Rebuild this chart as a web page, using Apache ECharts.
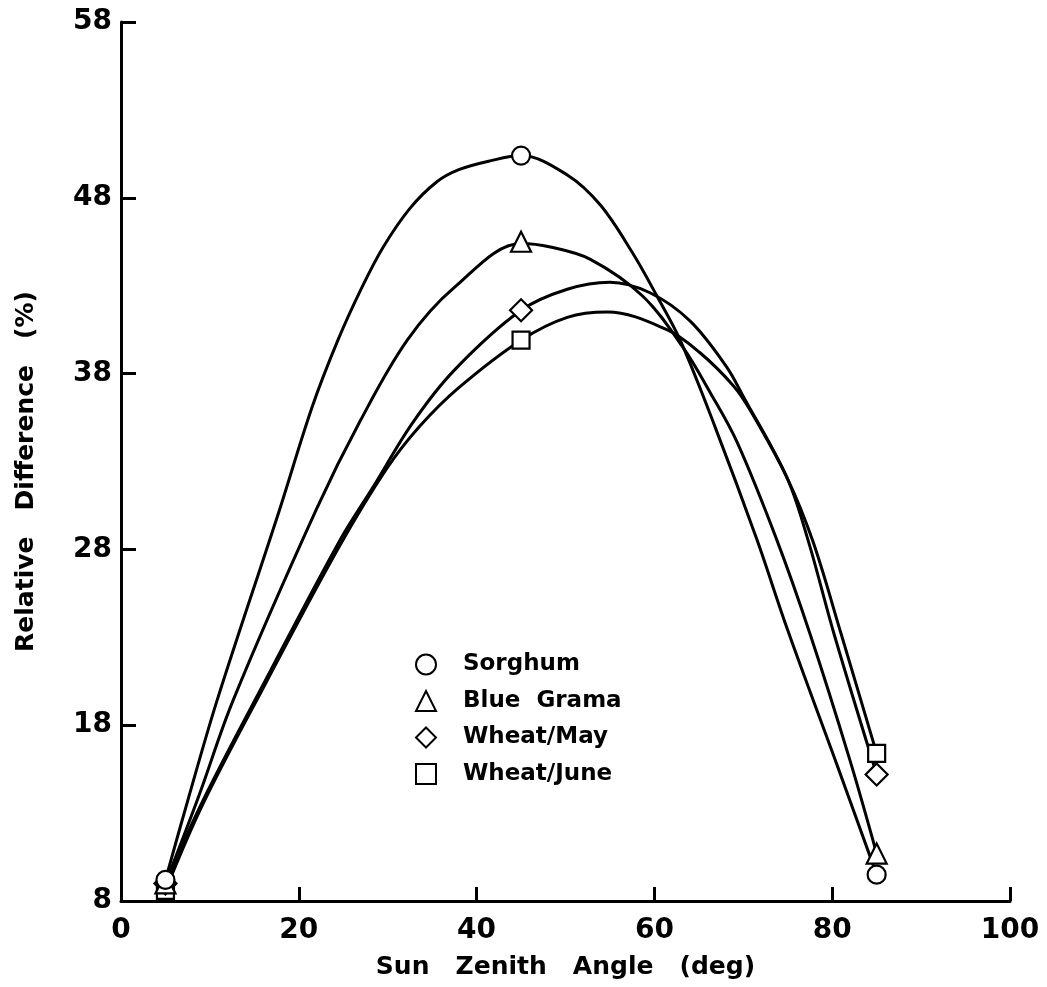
<!DOCTYPE html>
<html>
<head>
<meta charset="utf-8">
<script src="https://cdn.jsdelivr.net/npm/echarts@6/dist/echarts.min.js"></script>
<style>
html,body{margin:0;padding:0;background:#fff;}
#chart{width:1047px;height:987px;}
</style>
</head>
<body>
<div id="chart"></div>
<script>
// ---- data ----
const seriesNames = ['Sorghum', 'Blue Grama', 'Wheat/May', 'Wheat/June'];
const legendLabels = ['Sorghum', 'Blue  Grama', 'Wheat/May', 'Wheat/June'];
const xTicks = [0, 20, 40, 60, 80, 100];
const yTicks = [8, 18, 28, 38, 48, 58];

// measured points (sun zenith angle, relative difference %)
const sorghumPts   = [[5, 9.2], [45, 50.4], [85, 9.5]];
const blueGramaPts = [[5, 9.0], [45, 45.5], [85, 10.7]];
const wheatMayPts  = [[5, 9.0], [45, 41.6], [85, 15.2]];
const wheatJunePts = [[5, 8.6], [45, 39.9], [85, 16.4]];

// fitted curves
const sorghumCurve = [[5,9.2],[7.5,13.7],[10.8,19.4],[17.8,30.2],[21.5,36.1],[24.4,39.9],[27.1,42.9],[29.5,45.2],[32.5,47.4],[35.5,48.9],[38,49.6],[41.5,50.1],[45,50.4],[50.2,49.3],[53.9,47.6],[57.5,44.9],[60.3,42.4],[62.9,39.9],[66.8,35.0],[71.5,28.6],[75,23.4],[80.5,15.8],[85,9.5]];
const blueGramaCurve = [[5,9.0],[8.7,13.9],[12.6,19.4],[22.0,30.3],[26.9,35.3],[32.2,39.9],[37.5,42.9],[45,45.4],[48.3,45.2],[52.8,44.5],[58.7,42.4],[63.2,39.5],[66.3,36.9],[69.3,34.1],[73.8,28.5],[77.5,23.2],[82,16.0],[85,10.7]];
const wheatMayCurve = [[5,9.0],[9.2,13.7],[16.4,20.7],[24.6,28.5],[28.3,31.5],[32.8,35.2],[37.5,38.2],[45,41.6],[50.2,42.8],[55,43.2],[59.5,42.6],[64,41.0],[68.1,38.4],[70,36.7],[74.9,32.1],[77.3,28.5],[80.2,23.2],[85,15.2]];
const wheatJuneCurve = [[5,8.6],[9.2,13.5],[16.4,20.5],[24.6,28.2],[29.9,32.6],[33.6,35.0],[38,37.2],[45,39.9],[50.2,41.2],[54.7,41.5],[61.4,40.5],[65.1,39.2],[68.9,37.3],[70.8,35.9],[74.9,32.1],[77.8,28.5],[81.0,23.2],[85,16.4]];

const pointSets = [sorghumPts, blueGramaPts, wheatMayPts, wheatJunePts];
const curveSets = [sorghumCurve, blueGramaCurve, wheatMayCurve, wheatJuneCurve];
const symbols = ['circle', 'triangle', 'diamond', 'rect'];
const symbolSizes = [18, 20, 22, 17];

const FONT = 'DejaVu Sans';
const chart = echarts.init(document.getElementById('chart'), null, {renderer: 'canvas'});

const series = [];
curveSets.forEach((c, i) => {
  series.push({
    name: seriesNames[i] + ' fit',
    type: 'line',
    data: c,
    smooth: 0.35,
    showSymbol: false,
    symbol: 'none',
    lineStyle: {color: '#000', width: 3},
    z: 2,
    silent: true
  });
});
pointSets.forEach((p, i) => {
  series.push({
    name: seriesNames[i],
    type: 'scatter',
    data: p,
    symbol: symbols[i],
    symbolSize: symbolSizes[i],
    itemStyle: {color: '#fff', borderColor: '#000', borderWidth: 2.2, opacity: 1},
    z: 5 - i * 0.1
  });
});

chart.setOption({
  animation: false,
  backgroundColor: '#fff',
  grid: {left: 121, right: 37, top: 22, bottom: 86, containLabel: false, outerBoundsMode: 'none'},
  legend: {
    orient: 'vertical',
    left: 415,
    top: 653,
    padding: 0,
    itemWidth: 20,
    itemHeight: 20,
    itemGap: 13.5,
    selectedMode: false,
    data: seriesNames,
    formatter: function (name) { return legendLabels[seriesNames.indexOf(name)]; },
    textStyle: {fontFamily: FONT, fontWeight: 'bold', fontSize: 23, color: '#000', lineHeight: 20, padding: [0, 0, 0, 22]}
  },
  xAxis: {
    type: 'value',
    min: xTicks[0],
    max: xTicks[xTicks.length - 1],
    interval: 20,
    name: 'Sun   Zenith   Angle   (deg)',
    nameLocation: 'middle',
    nameGap: 54,
    nameTextStyle: {fontFamily: FONT, fontWeight: 'bold', fontSize: 25, color: '#000'},
    axisLine: {show: true, lineStyle: {color: '#000', width: 3}},
    axisTick: {show: true, inside: true, length: 14, lineStyle: {color: '#000', width: 3}, customValues: xTicks},
    axisLabel: {fontFamily: FONT, fontWeight: 'bold', fontSize: 28, color: '#000', margin: 16, customValues: xTicks},
    splitLine: {show: false}
  },
  yAxis: {
    type: 'value',
    min: yTicks[0],
    max: yTicks[yTicks.length - 1],
    interval: 10,
    name: 'Relative   Difference   (%)',
    nameLocation: 'middle',
    nameRotate: 90,
    nameGap: 82,
    nameTextStyle: {fontFamily: FONT, fontWeight: 'bold', fontSize: 25, color: '#000', padding: [0, 20, 0, 0]},
    axisLine: {show: true, lineStyle: {color: '#000', width: 3}},
    axisTick: {show: true, inside: true, length: 15, lineStyle: {color: '#000', width: 3}, customValues: yTicks},
    axisLabel: {fontFamily: FONT, fontWeight: 'bold', fontSize: 28, color: '#000', margin: 9, customValues: yTicks},
    splitLine: {show: false}
  },
  series: series
});
</script>
</body>
</html>
